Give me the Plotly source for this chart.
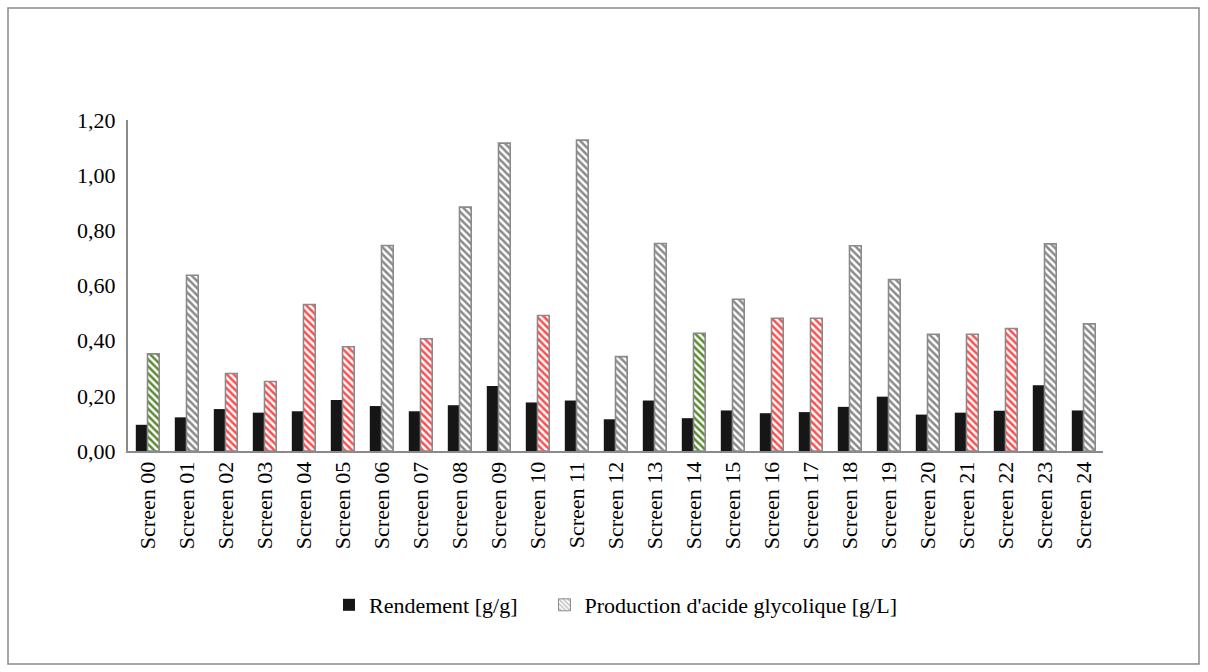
import plotly.graph_objects as go

# Screens and measured values
screens = [f"Screen {i:02d}" for i in range(25)]
rendement = [0.095, 0.122, 0.152, 0.139, 0.144, 0.185, 0.163, 0.144, 0.166, 0.236,
             0.176, 0.183, 0.115, 0.183, 0.119, 0.147, 0.137, 0.141, 0.160, 0.197,
             0.132, 0.139, 0.146, 0.238, 0.147]
production = [0.352, 0.637, 0.281, 0.252, 0.531, 0.378, 0.745, 0.407, 0.884, 1.116,
              0.491, 1.127, 0.342, 0.752, 0.427, 0.550, 0.481, 0.481, 0.744, 0.622,
              0.423, 0.423, 0.444, 0.751, 0.461]
# hatch colour group per screen: "ref" (reference), "low" (below reference), "std"
groups = ["ref", "std", "low", "low", "low", "low", "std", "low", "std", "std",
          "low", "std", "std", "std", "ref", "std", "low", "low", "std", "std",
          "std", "low", "low", "std", "std"]

GRAY = "#8a8a8a"
HATCH = {"std": "#8a8a8a", "low": "#ff4d4d", "ref": "#5a8a32"}
hatch_colors = [HATCH[g] for g in groups]

W, H = 1208, 672
L, R, T, B = 128, 1103, 120, 451  # plot area in pixels
NBSP = "\u00a0"

fig = go.Figure()
fig.add_trace(go.Bar(
    x=screens, y=rendement, name="Rendement [g/g]" + NBSP * 4,
    offsetgroup="a", marker=dict(color="#161616", line=dict(width=0)),
))
fig.add_trace(go.Bar(
    x=screens, y=production, name="Production d'acide glycolique [g/L]",
    offsetgroup="b", showlegend=False,
    marker=dict(
        color="white",
        line=dict(color=GRAY, width=1.6),
        pattern=dict(shape="\\", fgcolor=hatch_colors, bgcolor="white",
                     size=5, solidity=0.5, fillmode="replace"),
    ),
))
# legend entry for the hatched series
fig.add_trace(go.Bar(
    x=[screens[0]], y=[None], name="Production d'acide glycolique [g/L]",
    offsetgroup="b", showlegend=True,
    marker=dict(
        color="white",
        line=dict(color=GRAY, width=1),
        pattern=dict(shape="\\", fgcolor=GRAY, bgcolor="white",
                     size=4, solidity=0.5),
    ),
))

font = dict(family="Liberation Serif, Times New Roman, serif", size=22, color="black")

fig.update_layout(
    width=W, height=H,
    margin=dict(l=L, r=W - R, t=T, b=H - B),
    paper_bgcolor="white", plot_bgcolor="white",
    font=font,
    separators=", ",
    barmode="group", bargap=0.4, bargroupgap=0,
    showlegend=True,
    legend=dict(orientation="h", x=0.5, xanchor="center",
                y=(B - 605) / (B - T), yanchor="middle",
                font=font, itemwidth=30, traceorder="normal",
                bgcolor="rgba(0,0,0,0)"),
    xaxis=dict(
        showline=True, linecolor=GRAY, linewidth=2, showgrid=False,
        ticks="", tickangle=-90, tickfont=font, fixedrange=True,
    ),
    yaxis=dict(
        range=[0, 1.2], dtick=0.2, tickformat=".2f",
        showline=True, linecolor=GRAY, linewidth=2, showgrid=False,
        ticks="", tickfont=font, zeroline=False, fixedrange=True,
        ticklabelstandoff=6,
    ),
)

# outer chart border
fig.add_shape(
    type="rect", xref="paper", yref="paper",
    x0=(8 - L) / (R - L), x1=(1199 - L) / (R - L),
    y0=(B - 664) / (B - T), y1=(B - 8) / (B - T),
    line=dict(color=GRAY, width=1.5), fillcolor="rgba(0,0,0,0)", layer="below",
)

fig.write_html("out.html")
